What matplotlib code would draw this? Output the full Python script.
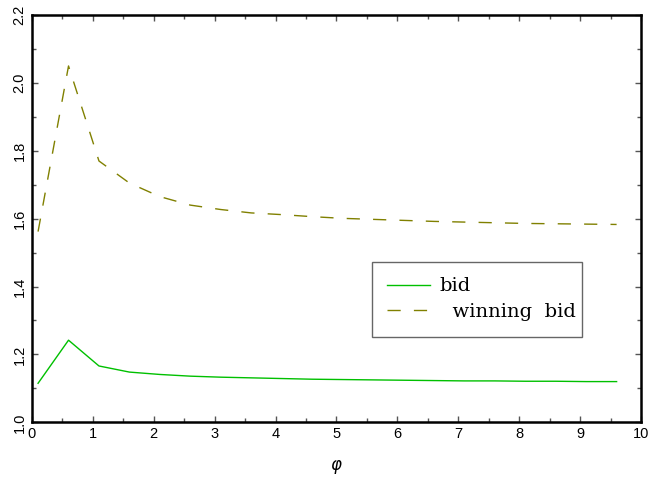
import matplotlib
matplotlib.use("Agg")
import matplotlib.pyplot as plt
from matplotlib.ticker import MultipleLocator

# %% data
phi = [0.1, 0.6, 1.1, 1.6, 2.1, 2.6, 3.1, 3.6, 4.1, 4.6,
       5.1, 5.6, 6.1, 6.6, 7.1, 7.6, 8.1, 8.6, 9.1, 9.6]
bid = [1.115, 1.242, 1.166, 1.148, 1.141, 1.136, 1.133, 1.131, 1.129, 1.127,
       1.126, 1.125, 1.124, 1.123, 1.122, 1.122, 1.121, 1.121, 1.120, 1.120]
winning_bid = [1.562, 2.050, 1.770, 1.705, 1.665, 1.640, 1.627, 1.617, 1.612, 1.606,
               1.601, 1.598, 1.595, 1.592, 1.590, 1.588, 1.586, 1.585, 1.584, 1.583]

# %% figure
fig = plt.figure(figsize=(6.5, 4.78), dpi=100)
ax = fig.add_axes([0.0492, 0.1165, 0.9369, 0.852])

ax.plot(phi, bid, color="#00c000", lw=1.0, label="bid")
ax.plot(phi, winning_bid, color="#808000", lw=1.0, dashes=(9.5, 9.5),
        label="  winning  bid")

ax.set_xlim(0, 10)
ax.set_ylim(1.0, 2.2)
ax.xaxis.set_major_locator(MultipleLocator(1))
ax.xaxis.set_minor_locator(MultipleLocator(0.5))
ax.yaxis.set_major_locator(MultipleLocator(0.2))
ax.yaxis.set_minor_locator(MultipleLocator(0.1))
ax.tick_params(which="both", direction="in", top=True, right=True,
               color="#555555", width=1.0, labelsize=10.5)
ax.tick_params(which="major", length=4)
ax.tick_params(which="minor", length=3)
ax.tick_params(axis="y", labelrotation=90, pad=4)
for lab in ax.get_yticklabels():
    lab.set_va("center")
for lab in ax.get_xticklabels() + ax.get_yticklabels():
    lab.set_family("Liberation Sans")
for s in ax.spines.values():
    s.set_linewidth(1.8)

ax.set_xlabel(r"$\varphi$", fontsize=12, labelpad=12)

leg = ax.legend(loc="upper left", bbox_to_anchor=(0.558, 0.202, 0.345, 0.192),
                mode="expand", fancybox=False, framealpha=1, edgecolor="#666666",
                prop={"family": "DejaVu Serif", "size": 14}, handlelength=2.2,
                borderpad=0.8, labelspacing=0.4, handletextpad=0.5,
                borderaxespad=0)
leg.get_frame().set_linewidth(1.0)

fig.savefig("out.png", dpi=100)
